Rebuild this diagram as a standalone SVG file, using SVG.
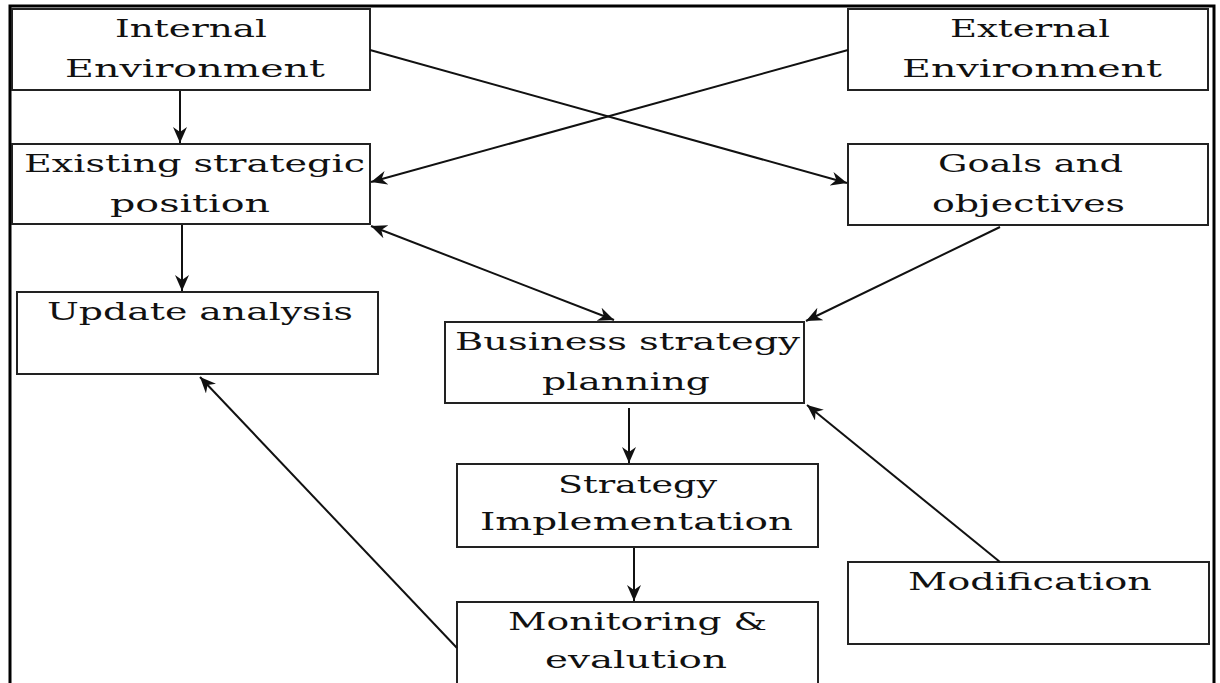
<svg xmlns="http://www.w3.org/2000/svg" width="1220" height="683" viewBox="0 0 1220 683">
<style>
.box{fill:#fff;stroke:#222;stroke-width:2}
.t{font-family:"DejaVu Serif","Liberation Serif",serif;font-size:25px;fill:#111;text-anchor:start}
.c{stroke:#111;stroke-width:2;fill:none}
</style>
<defs>
<marker id="ah" markerUnits="userSpaceOnUse" markerWidth="16" markerHeight="14" refX="16" refY="7" orient="auto-start-reverse">
<path d="M0,0 L16,7 L0,14 L5,7 z" fill="#111"/>
</marker>
</defs>
<rect width="1220" height="683" fill="#fff"/>
<path d="M10,690 V6 H1214 V690" fill="none" stroke="#000" stroke-width="3"/>
<g id="internal">
<rect class="box" x="12" y="9" width="358" height="81"/>
<text class="t" x="115" y="37" textLength="152" lengthAdjust="spacingAndGlyphs">Internal</text>
<text class="t" x="65" y="77" textLength="260" lengthAdjust="spacingAndGlyphs">Environment</text>
</g>
<g id="external">
<rect class="box" x="848" y="9" width="360" height="81"/>
<text class="t" x="950" y="37" textLength="160" lengthAdjust="spacingAndGlyphs">External</text>
<text class="t" x="902" y="77" textLength="260" lengthAdjust="spacingAndGlyphs">Environment</text>
</g>
<g id="existing">
<rect class="box" x="12" y="144" width="358" height="80"/>
<text class="t" x="24" y="172" textLength="341" lengthAdjust="spacingAndGlyphs">Existing strategic</text>
<text class="t" x="110" y="212" textLength="160" lengthAdjust="spacingAndGlyphs">position</text>
</g>
<g id="goals">
<rect class="box" x="848" y="144" width="360" height="81"/>
<text class="t" x="938" y="172" textLength="185" lengthAdjust="spacingAndGlyphs">Goals and</text>
<text class="t" x="932" y="212" textLength="193" lengthAdjust="spacingAndGlyphs">objectives</text>
</g>
<g id="update">
<rect class="box" x="17" y="292" width="361" height="82"/>
<text class="t" x="47" y="320" textLength="306" lengthAdjust="spacingAndGlyphs">Update analysis</text>
</g>
<g id="business">
<rect class="box" x="445" y="322" width="359" height="81"/>
<text class="t" x="455" y="350" textLength="345" lengthAdjust="spacingAndGlyphs">Business strategy</text>
<text class="t" x="542" y="390" textLength="168" lengthAdjust="spacingAndGlyphs">planning</text>
</g>
<g id="implementation">
<rect class="box" x="457" y="464" width="361" height="83"/>
<text class="t" x="558" y="493" textLength="159" lengthAdjust="spacingAndGlyphs">Strategy</text>
<text class="t" x="480" y="530" textLength="313" lengthAdjust="spacingAndGlyphs">Implementation</text>
</g>
<g id="monitoring">
<path class="box" d="M457,700 V602 H818 V700"/>
<text class="t" x="508" y="630" textLength="259" lengthAdjust="spacingAndGlyphs">Monitoring &amp;</text>
<text class="t" x="545" y="668" textLength="182" lengthAdjust="spacingAndGlyphs">evalution</text>
</g>
<g id="modification">
<rect class="box" x="848" y="562" width="361" height="82"/>
<text class="t" x="908" y="590" textLength="244" lengthAdjust="spacingAndGlyphs">Modification</text>
</g>
<g id="connectors">
<line class="c" x1="180" y1="91" x2="180" y2="143" marker-end="url(#ah)"/>
<line class="c" x1="182" y1="225" x2="182" y2="291" marker-end="url(#ah)"/>
<line class="c" x1="629" y1="408" x2="629" y2="463" marker-end="url(#ah)"/>
<line class="c" x1="634" y1="548" x2="634" y2="601" marker-end="url(#ah)"/>
<line class="c" x1="370" y1="50" x2="847" y2="183" marker-end="url(#ah)"/>
<line class="c" x1="848" y1="50" x2="371" y2="182" marker-end="url(#ah)"/>
<line class="c" x1="371" y1="226" x2="614" y2="320" marker-start="url(#ah)" marker-end="url(#ah)"/>
<line class="c" x1="1000" y1="227" x2="806" y2="321" marker-end="url(#ah)"/>
<line class="c" x1="457" y1="648" x2="200" y2="377" marker-end="url(#ah)"/>
<line class="c" x1="1000" y1="562" x2="807" y2="405" marker-end="url(#ah)"/>
</g>
</svg>
